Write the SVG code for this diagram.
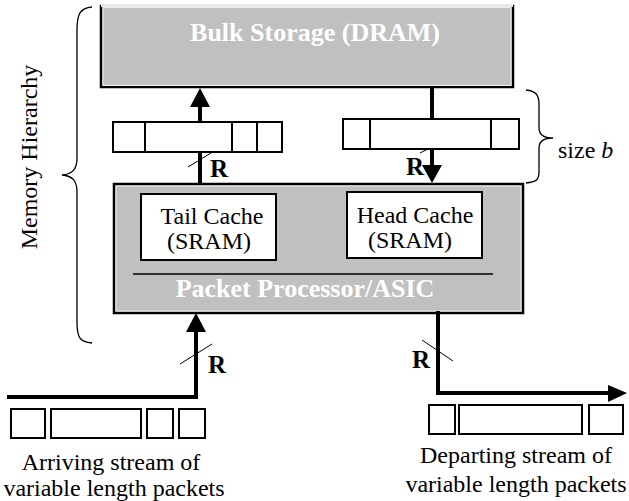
<svg xmlns="http://www.w3.org/2000/svg" width="629" height="501" viewBox="0 0 629 501">
<style>
.serif{font-family:"Liberation Serif","Times New Roman",serif}
.lbl{font-size:24px;fill:#000}
.wb{font-size:26px;font-weight:bold;fill:#fff}
.rb{font-size:25px;font-weight:bold;fill:#000}
.gbox{fill:#c0c0c0;stroke:#000;stroke-width:2.5}
.inner{fill:none;stroke:#ececec;stroke-width:1}
.wbox{fill:#fff;stroke:#000;stroke-width:2}
.thick{fill:none;stroke:#000;stroke-width:4}
.thin{fill:none;stroke:#000;stroke-width:1}
.brace{fill:none;stroke:#000;stroke-width:1.3}
</style>
<rect width="629" height="501" fill="#fff"/>

<g id="bulk">
<rect class="gbox" x="101" y="6" width="412" height="81"/>
<line x1="101" y1="5.5" x2="513" y2="5.5" stroke="#e8e8e8" stroke-width="3"/>
<rect class="inner" x="103" y="7.5" width="408" height="78"/>
<text class="serif wb" x="315" y="41" text-anchor="middle">Bulk Storage (DRAM)</text>
</g>

<g id="proc">
<rect class="gbox" x="114" y="184" width="409" height="129"/>
<rect class="inner" x="116" y="186" width="405" height="125"/>
<line x1="133" y1="274" x2="493" y2="274" stroke="#000" stroke-width="1.5"/>
<text class="serif wb" x="305" y="297" text-anchor="middle">Packet Processor/ASIC</text>
</g>

<g id="tailcache">
<rect class="wbox" x="141" y="194" width="135" height="66"/>
<text class="serif lbl" x="212" y="224" text-anchor="middle" font-size="23">Tail Cache</text>
<text class="serif lbl" x="209" y="249" text-anchor="middle" font-size="26">(SRAM)</text>
</g>

<g id="headcache">
<rect class="wbox" x="347" y="192" width="135" height="66"/>
<text class="serif lbl" x="415" y="223" text-anchor="middle">Head Cache</text>
<text class="serif lbl" x="410" y="248" text-anchor="middle" font-size="26">(SRAM)</text>
</g>

<g id="queue-tail">
<rect class="wbox" x="113" y="122" width="32" height="30"/>
<rect class="wbox" x="145" y="122" width="87" height="30"/>
<rect class="wbox" x="232" y="122" width="25" height="30"/>
<rect class="wbox" x="257" y="122" width="25" height="30"/>
</g>

<g id="queue-head">
<rect class="wbox" x="343" y="119" width="27" height="30"/>
<rect class="wbox" x="370" y="119" width="121" height="30"/>
<rect class="wbox" x="491" y="119" width="28" height="30"/>
</g>

<g id="arrivals">
<rect class="wbox" x="11" y="409" width="34" height="29"/>
<rect class="wbox" x="51" y="409" width="90" height="29"/>
<rect class="wbox" x="147" y="409" width="26" height="29"/>
<rect class="wbox" x="179" y="409" width="26" height="29"/>
<text class="serif lbl" x="111" y="470" text-anchor="middle">Arriving stream of</text>
<text class="serif lbl" x="114" y="496" text-anchor="middle">variable length packets</text>
</g>

<g id="departures">
<rect class="wbox" x="429" y="405" width="26" height="29"/>
<rect class="wbox" x="459" y="405" width="123" height="29"/>
<rect class="wbox" x="589" y="405" width="34" height="29"/>
<text class="serif lbl" x="516" y="463" text-anchor="middle">Departing stream of</text>
<text class="serif lbl" x="516" y="492" text-anchor="middle" font-size="23">variable length packets</text>
</g>

<g id="memory-hierarchy">
<path class="brace" d="M92,7 C80,8 77,14 77,30 L77,158 C77,170 72,174 62,175 C72,176 77,180 77,192 L77,322 C77,338 80,342 92,343"/>
<text class="serif lbl" transform="translate(37,157) rotate(-90)" text-anchor="middle" font-size="23">Memory Hierarchy</text>
</g>

<g id="size-b">
<path class="brace" d="M526,90 C536,91 539,95 539,104 L539,128 C539,135 544,138 553,138 C544,138 539,141 539,148 L539,172 C539,180 536,182 526,183"/>
<text class="serif lbl" x="558" y="158" font-size="19">size <tspan font-style="italic">b</tspan></text>
</g>

<g id="connectors">
<!-- tail to DRAM -->
<line class="thick" x1="200" y1="183" x2="200" y2="152"/>
<line class="thick" x1="200" y1="122" x2="200" y2="105"/>
<polygon points="190,107 210,107 200,88" fill="#000"/>
<line class="thin" x1="188" y1="167" x2="211" y2="153"/>
<text class="serif rb" x="210" y="177">R</text>

<!-- DRAM to head -->
<line class="thick" x1="432" y1="87" x2="432" y2="119"/>
<line class="thick" x1="432" y1="149" x2="432" y2="167"/>
<polygon points="422,165 442,165 432,183" fill="#000"/>
<line class="thin" x1="420" y1="153" x2="428" y2="149"/>
<text class="serif rb" x="406" y="175">R</text>

<!-- arrivals -->
<polyline class="thick" points="7,397 196,397 196,330"/>
<polygon points="186,332 206,332 196,313" fill="#000"/>
<line class="thin" x1="180" y1="364" x2="212" y2="344"/>
<text class="serif rb" x="208" y="373">R</text>

<!-- departures -->
<polyline class="thick" points="438,311 438,393 610,393"/>
<polygon points="608,385 608,402 627,393" fill="#000"/>
<line class="thin" x1="422" y1="340" x2="453" y2="361"/>
<text class="serif rb" x="412" y="368">R</text>
</g>
</svg>
